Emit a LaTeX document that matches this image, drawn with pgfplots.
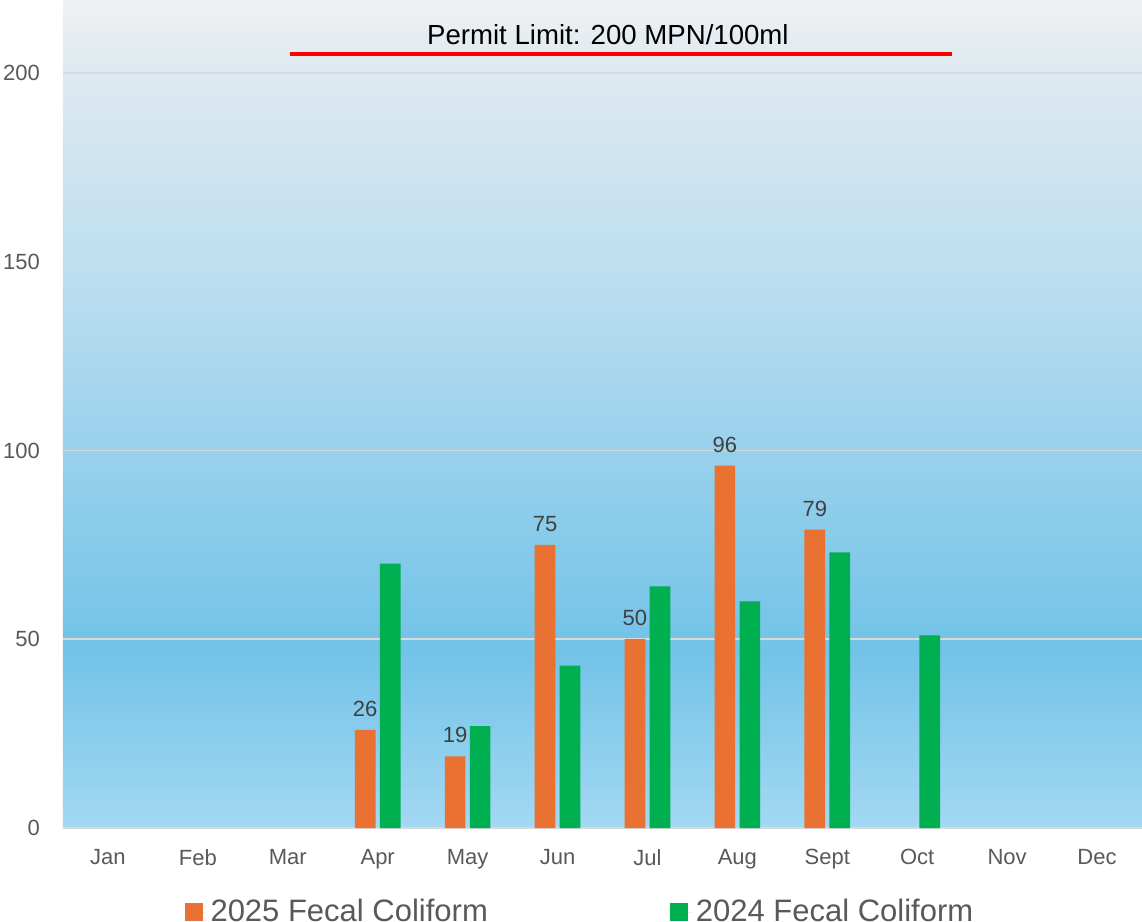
\documentclass[border=0pt]{standalone}
\usepackage{fontspec}
\setmainfont{Liberation Sans}
\usepackage{pgfplots}
\pgfplotsset{compat=1.18}
\definecolor{orng}{HTML}{E97132}
\definecolor{grn}{HTML}{00B050}
\definecolor{tickgray}{HTML}{595959}
\definecolor{lblgray}{HTML}{404040}
\definecolor{gridgray}{HTML}{D9D9D9}
\definecolor{c0}{HTML}{A3D8F2}
\definecolor{c1}{HTML}{72C3E8}
\definecolor{c2}{HTML}{99D1EC}
\definecolor{c3}{HTML}{B8DDEF}
\definecolor{c4}{HTML}{DDE9F0}
\definecolor{c45}{HTML}{E6EDF1}
\definecolor{c5}{HTML}{F0F1F2}
\pgfdeclareverticalshading{bgshade}{100bp}{color(0bp)=(c0); color(25bp)=(c0); color(35.75bp)=(c1); color(48bp)=(c2); color(57bp)=(c3); color(70.5bp)=(c4); color(72.8bp)=(c45); color(75bp)=(c5); color(100bp)=(c5)}
\begin{document}
\begin{tikzpicture}
\begin{axis}[
  name=ax,
  scale only axis,
  width=539.5pt, height=414pt,
  xmin=-0.5, xmax=11.5,
  ymin=0, ymax=219.3,
  ybar, bar width=10.35pt,
  /pgf/number format/assume math mode=true,
  axis background/.style={shade, shading=bgshade, draw=none},
  axis x line*=bottom, axis y line*=left,
  axis line style={-},
  x axis line style={gridgray, line width=1pt},
  y axis line style={draw=none},
  major tick length=0pt,
  xtick={0,...,11},
  xticklabels={Jan,Feb,Mar,Apr,May,Jun,Jul,Aug,Sept,Oct,Nov,Dec},
  ytick={0,50,100,150,200},
  ymajorgrids,
  grid style={gridgray, line width=0.75pt},
  ticklabel style={font=\fontsize{11}{13}\selectfont, text=tickgray},
  xticklabel style={yshift=-7pt},
  yticklabel style={xshift=-8pt},
  legend style={at={(rel axis cs:0.48,0)}, anchor=center, yshift=-42pt,
    draw=none, fill=none, legend columns=2,
    font=\fontsize{15.5}{17}\selectfont, text=tickgray,
    /tikz/every even column/.append style={column sep=89pt}},
  legend image code/.code={\fill[#1, draw=none] (0pt,-4.5pt) rectangle (9pt,4.5pt); \path (0pt,0pt) -- (11pt,0pt);},
]
\addplot[fill=orng, draw=none, bar shift=-6.25pt,
  nodes near coords,
  every node near coord/.append style={font=\fontsize{11}{13}\selectfont, text=lblgray, yshift=3pt}]
  coordinates {(3,26) (4,19) (5,75) (6,50) (7,96) (8,79)};
\addlegendentry{2025 Fecal Coliform}
\addplot[fill=grn, draw=none, bar shift=6.25pt]
  coordinates {(3,70) (4,27) (5,43) (6,64) (7,60) (8,73) (9,51)};
\addlegendentry{2024 Fecal Coliform}
\addplot[sharp plot, red, line width=2pt, forget plot, mark=none]
  coordinates {(2.025,205) (9.39,205)};
\node[font=\fontsize{13.8}{15}\selectfont, text=black] at (axis cs:5.56,210) {Permit Limit: 200 MPN/100ml};
\end{axis}
\pgfresetboundingbox
\useasboundingbox ([xshift=-31.5pt,yshift=-47pt]ax.south west) rectangle (ax.north east);
\end{tikzpicture}
\end{document}
